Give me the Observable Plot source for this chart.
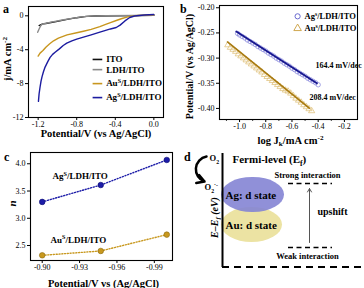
<!DOCTYPE html>
<html><head><meta charset="utf-8">
<script src="https://cdn.jsdelivr.net/npm/d3@7"></script>
<script src="https://cdn.jsdelivr.net/npm/@observablehq/plot@0.6"></script>
<style>
body{margin:0;background:#fff;}
#root{position:relative;width:364px;height:288px;overflow:hidden;font-family:"Liberation Serif",serif;}
.panel{position:absolute;}
.plbl{position:absolute;font:bold 12px "Liberation Serif",serif;line-height:1;}
</style></head><body><div id="root"></div>
<script>
// ---------- Panel a: LSV curves ----------
const itoV = [-1.19,-1.17,-1.15,-1.12,-1.08,-1.0,-0.9,-0.8,-0.7,-0.6,-0.4,-0.2,0.0];
const itoJ = [-1.15,-1.05,-0.95,-0.9,-0.82,-0.65,-0.42,-0.22,-0.07,-0.02,0,0.02,0.05];
const ldhV = [-1.205,-1.19,-1.175,-1.16,-1.12,-1.05,-0.95,-0.85,-0.75,-0.65,-0.5,-0.2,0.0];
const ldhJ = [-1.95,-1.55,-1.2,-1.0,-0.88,-0.72,-0.5,-0.3,-0.12,-0.03,0,0.03,0.06];
const auV = [-1.2,-1.18,-1.15,-1.12,-1.08,-1.04,-0.99,-0.9,-0.8,-0.73,-0.65,-0.56,-0.5,-0.45,-0.39,-0.33,-0.28,-0.24,-0.2,-0.1,0.0];
const auJ = [-4.75,-4.4,-4.1,-3.7,-3.3,-2.95,-2.64,-2.25,-2.0,-1.82,-1.6,-1.28,-1.02,-0.8,-0.55,-0.32,-0.16,-0.06,0.0,0.08,0.12];
const agV = [-1.197,-1.19,-1.18,-1.17,-1.16,-1.145,-1.128,-1.1,-1.076,-1.05,-1.024,-0.98,-0.94,-0.903,-0.85,-0.8,-0.73,-0.65,-0.56,-0.5,-0.45,-0.39,-0.35,-0.3,-0.25,-0.2,-0.1,0.0];
const agJ = [-10.1,-9.2,-8.4,-7.7,-7.2,-6.6,-6.05,-5.4,-4.9,-4.55,-4.3,-3.9,-3.5,-3.23,-2.95,-2.75,-2.52,-2.25,-1.93,-1.72,-1.55,-1.38,-1.1,-0.6,-0.2,-0.02,0.1,0.15];
const seriesA = [
  {name:"ITO", v:itoV, j:itoJ, color:"#111111", ly:-5.15},
  {name:"LDH/ITO", v:ldhV, j:ldhJ, color:"#8a8a8a", ly:-6.35},
  {name:"Au^{S}/LDH/ITO", v:auV, j:auJ, color:"#c8961e", ly:-8.0},
  {name:"Ag^{S}/LDH/ITO", v:agV, j:agJ, color:"#1c1ca0", ly:-9.65}
];
const aTicksX = [-1.2,-0.8,-0.4,0.0];
const aTicksY = [-12,-8,-4,0];

// ---------- Panel b: Tafel ----------
const bAgX = [-1.015,-1.0,-0.98,-0.96,-0.94,-0.92,-0.9,-0.88,-0.86,-0.84,-0.82,-0.8,-0.78,-0.76,-0.74,-0.72,-0.7,-0.68,-0.66,-0.64,-0.62,-0.6,-0.58,-0.56,-0.54,-0.52,-0.5,-0.48,-0.46,-0.44,-0.42,-0.4];
const bAgY = [-0.251,-0.254,-0.257,-0.260,-0.264,-0.267,-0.270,-0.273,-0.277,-0.280,-0.283,-0.286,-0.290,-0.293,-0.296,-0.300,-0.303,-0.306,-0.310,-0.313,-0.316,-0.320,-0.323,-0.327,-0.330,-0.333,-0.336,-0.340,-0.343,-0.346,-0.349,-0.353];
const bAuX = [-1.09,-1.07,-1.05,-1.03,-1.01,-0.99,-0.97,-0.95,-0.93,-0.91,-0.89,-0.87,-0.85,-0.83,-0.81,-0.79,-0.77,-0.75,-0.73,-0.71,-0.69,-0.67,-0.65,-0.63,-0.61,-0.59,-0.57,-0.55,-0.53,-0.51,-0.49,-0.47,-0.45];
const bAuY = [-0.274,-0.279,-0.283,-0.287,-0.292,-0.296,-0.300,-0.304,-0.308,-0.312,-0.316,-0.320,-0.324,-0.328,-0.333,-0.337,-0.341,-0.345,-0.349,-0.353,-0.357,-0.361,-0.364,-0.366,-0.370,-0.375,-0.380,-0.384,-0.388,-0.393,-0.397,-0.401,-0.405];
const bAgFitX = [-1.025,-0.41], bAgFitY = [-0.247,-0.350];
const bAuFitX = [-1.092,-0.468], bAuFitY = [-0.268,-0.3995];
const bSlopes = [{t:"164.4 mV/dec", x:-0.42, y:-0.314}, {t:"208.4 mV/dec", x:-0.466, y:-0.379}];
const bTicksX = [-1.0,-0.8,-0.6,-0.4,-0.2];
const bMinorX = [-1.1,-0.9,-0.7,-0.5,-0.3];
const bTicksY = [-0.40,-0.35,-0.30,-0.25,-0.20];

// ---------- Panel c: electron transfer number ----------
const cPot = [-0.90,-0.947,-1.0];
const cAg = [3.30,3.61,4.07];
const cAu = [2.32,2.40,2.70];
const cTicksX = [-0.90,-0.93,-0.96,-0.99];
const cTicksY = [2.5,3.0,3.5,4.0];

// ---------- Panel d: schematic (layout units) ----------
const dStates = [
  {label:"Au: d state", x1:39, x2:100, y1:67, y2:102, fill:"#ece3a3", op:1},
  {label:"Ag: d state", x1:39, x2:102, y1:37, y2:72, fill:"#8484d4", op:0.9}
];
const dLevels = [
  {label:"Strong interaction", y:43, ty:35},
  {label:"Weak interaction", y:107, ty:116}
];

// rich text: _{sub} and ^{sup}
function rich(svg){
  d3.select(svg).selectAll("text").each(function(){
    const el = this;
    const s = el.textContent;
    if (!/[_^]\{/.test(s)) return;
    el.textContent = "";
    const re = /([_^])\{([^}]*)\}/g;
    let last = 0, m, cur = 0;
    const add = (txt, off, small) => {
      const ts = d3.select(el).append("tspan").text(txt);
      if (off !== cur) ts.attr("dy", off - cur);
      if (small) ts.attr("font-size", "68%");
      cur = off;
    };
    while ((m = re.exec(s))) {
      if (m.index > last) add(s.slice(last, m.index), 0, false);
      add(m[2], m[1] === "_" ? 2.5 : -3.5, true);
      last = re.lastIndex;
    }
    if (last < s.length) add(s.slice(last), 0, false);
  });
  return svg;
}

const root = document.getElementById("root");
function place(svg, left, top){
  svg.classList.add("panel");
  svg.style.left = left + "px"; svg.style.top = top + "px";
  root.appendChild(rich(svg));
}
const baseStyle = {fontFamily:"'Liberation Serif', serif", fontSize:"8px", background:"transparent", color:"#000", overflow:"visible"};
const xTitle = (t, dy, dx, size) => Plot.text([t], {frameAnchor:"bottom", dy, dx, lineAnchor:"middle", textAnchor:"middle", fontWeight:"bold", fontSize:size});
const yTitle = (t, dx, dy, size, italic) => Plot.text([t], {frameAnchor:"left", dx, dy, rotate:-90, lineAnchor:"middle", textAnchor:"middle", fontWeight:"bold", fontStyle: italic ? "italic" : "normal", fontSize:size});

// Panel a
const rowsA = seriesA.flatMap(s => s.v.map((v,i) => ({s:s.name, x:v, y:s.j[i], c:s.color})));
place(Plot.plot({
  width:182, height:140, marginLeft:28, marginTop:6, marginRight:19, marginBottom:23,
  style: baseStyle,
  color:{type:"identity"},
  x:{domain:[-1.3,0.1], ticks:aTicksX, tickFormat:d=>d.toFixed(1), tickSize:3, tickPadding:1, label:null},
  y:{domain:[-12,1.1], ticks:aTicksY, tickFormat:d=>String(d), tickSize:3, tickPadding:2, label:null},
  marks:[
    Plot.frame({stroke:"#000", strokeWidth:1.1}),
    Plot.line(rowsA, {x:"x", y:"y", z:"s", stroke:"c", strokeWidth:1.4}),
    Plot.ruleY(seriesA, {y:"ly", x1:-0.63, x2:-0.53, stroke:"color", strokeWidth:1.6}),
    Plot.text(seriesA, {x:-0.495, y:"ly", text:"name", textAnchor:"start", fontWeight:"bold", fontSize:9}),
    xTitle("Potential/V (vs Ag/AgCl)", 16, 0, 10.5),
    yTitle("j/mA cm^{-2}", -21, -3, 10.5)
  ]
}), 0, 0);

// Panel b
const rowsAg = bAgX.map((x,i)=>({x, y:bAgY[i]}));
const rowsAu = bAuX.map((x,i)=>({x, y:bAuY[i]}));
const fitAg = bAgFitX.map((x,i)=>({x, y:bAgFitY[i]}));
const fitAu = bAuFitX.map((x,i)=>({x, y:bAuFitY[i]}));
place(Plot.plot({
  width:182, height:150, marginLeft:37, marginTop:5, marginRight:7, marginBottom:31,
  style: baseStyle,
  x:{domain:[-1.153,-0.1], ticks:bTicksX, tickFormat:d=>d.toFixed(1), tickSize:3, tickPadding:1, label:null},
  y:{domain:[-0.422,-0.1955], ticks:bTicksY, tickFormat:d=>d.toFixed(2), tickSize:3, tickPadding:2, label:null},
  marks:[
    Plot.frame({stroke:"#000", strokeWidth:1.1}),
    Plot.ruleX(bMinorX, {x:d=>d, y1:-0.4255, y2:-0.422, stroke:"#000", strokeWidth:1}),
    Plot.dot(rowsAg, {x:"x", y:"y", r:2.2, stroke:"#8080da", strokeWidth:0.7, fill:"none"}),
    Plot.dot(rowsAu, {x:"x", y:"y", r:2.3, symbol:"triangle", stroke:"#dcbc70", strokeWidth:0.7, fill:"none"}),
    Plot.line(fitAg, {x:"x", y:"y", stroke:"#16168e", strokeWidth:1.8}),
    Plot.line(fitAu, {x:"x", y:"y", stroke:"#a87a10", strokeWidth:1.6}),
    Plot.dot([{x:-0.557, y:-0.217}], {x:"x", y:"y", r:2.6, stroke:"#6a6ad0", fill:"none", strokeWidth:1}),
    Plot.dot([{x:-0.557, y:-0.241}], {x:"x", y:"y", r:2.8, symbol:"triangle", stroke:"#d0a850", fill:"none", strokeWidth:1}),
    Plot.text([{t:"Ag^{s}/LDH/ITO", x:-0.504, y:-0.217},{t:"Au^{s}/LDH/ITO", x:-0.504, y:-0.241}], {x:"x", y:"y", text:"t", textAnchor:"start", fontWeight:"bold", fontSize:8.5}),
    Plot.text(bSlopes, {x:"x", y:"y", text:"t", textAnchor:"start", fontWeight:"bold", fontSize:8}),
    xTitle("log J_{k}/mA cm^{-2}", 21, 2, 10.5),
    yTitle("Potential/V (vs Ag/AgCl)", -30, 4, 10)
  ]
}), 182, 0);

// Panel c
const rowsCAg = cPot.map((x,i)=>({x, y:cAg[i]}));
const rowsCAu = cPot.map((x,i)=>({x, y:cAu[i]}));
place(Plot.plot({
  width:182, height:148, marginLeft:30, marginTop:12, marginRight:10, marginBottom:28,
  style: baseStyle,
  x:{domain:[-0.8906,-1.0046], ticks:cTicksX, tickFormat:d=>d.toFixed(2), tickSize:3, tickPadding:1, label:null},
  y:{domain:[2.225,4.207], ticks:cTicksY, tickFormat:d=>d.toFixed(1), tickSize:3, tickPadding:2, label:null},
  marks:[
    Plot.frame({stroke:"#000", strokeWidth:1.1}),
    Plot.line(rowsCAg, {x:"x", y:"y", stroke:"#1c1ca8", strokeWidth:1.4, strokeDasharray:"1.1 1.7"}),
    Plot.line(rowsCAu, {x:"x", y:"y", stroke:"#c8981e", strokeWidth:1.4, strokeDasharray:"1.1 1.7"}),
    Plot.dot(rowsCAg, {x:"x", y:"y", r:2.8, fill:"#1c1ca8", stroke:"#0c0c70", strokeWidth:0.6}),
    Plot.dot(rowsCAu, {x:"x", y:"y", r:2.8, fill:"#c8981e", stroke:"#8a6a10", strokeWidth:0.6}),
    Plot.text([{t:"Ag^{S}/LDH/ITO", x:-0.9083, y:3.767},{t:"Au^{S}/LDH/ITO", x:-0.9067, y:2.6}], {x:"x", y:"y", text:"t", textAnchor:"start", fontWeight:"bold", fontSize:9}),
    xTitle("Potential/V vs (Ag/AgCl)", 23, 2, 10.5),
    yTitle("n", -18, -3, 11, true)
  ]
}), 0, 140);

// Panel d
place(Plot.plot({
  width:182, height:148, margin:0,
  style: baseStyle,
  x:{domain:[0,182], range:[0,182], axis:null},
  y:{domain:[0,148], range:[0,148], axis:null},
  color:{type:"identity"},
  marks:[
    Plot.rect(dStates, {x1:"x1", x2:"x2", y1:"y1", y2:"y2", fill:"fill", fillOpacity:"op", rx:31, ry:17.5}),
    Plot.ruleX([40], {y1:13, y2:127, stroke:"#000", strokeWidth:2}),
    Plot.ruleY([126.5], {x1:40, x2:182, stroke:"#000", strokeWidth:2, strokeDasharray:"7 5"}),
    Plot.ruleY(dLevels, {y:"y", x1:106, x2:150, stroke:"#000", strokeWidth:1.3, strokeDasharray:"5 3.5"}),
    Plot.text(dLevels, {x:125, y:"ty", text:"label", fontWeight:"bold", fontSize:8.5}),
    Plot.arrow([{x1:127, y1:102, x2:127, y2:48}], {x1:"x1", y1:"y1", x2:"x2", y2:"y2", stroke:"#555", strokeWidth:1, headLength:6}),
    Plot.text(["upshift"], {x:135, y:71, textAnchor:"start", fontWeight:"bold", fontSize:10}),
    Plot.text(dStates, {x:43, y:d=>(d.y1+d.y2)/2, text:"label", textAnchor:"start", fontWeight:"bold", fontSize:11}),
    Plot.text(["Fermi-level (E_{f})"], {x:50, y:19, textAnchor:"start", fontWeight:"bold", fontSize:11}),
    Plot.text(["O_{2}"], {x:27, y:18, textAnchor:"start", fontWeight:"bold", fontSize:8.5}),
    Plot.text(["O_{2}^{·-}"], {x:22, y:47, textAnchor:"start", fontWeight:"bold", fontSize:8.5}),
    Plot.arrow([{x1:24, y1:16, x2:22, y2:41}], {x1:"x1", y1:"y1", x2:"x2", y2:"y2", bend:-75, stroke:"#000", strokeWidth:2.5, headLength:6}),
    Plot.text(["E–E_{f} (eV)"], {x:32, y:77, rotate:-90, fontWeight:"bold", fontStyle:"italic", fontSize:10})
  ]
}), 182, 140);

// panel letters
[["a",3,3],["b",180,3],["c",4,151],["d",184,151]].forEach(([t,x,y])=>{
  const d = document.createElement("div"); d.className="plbl"; d.textContent=t;
  d.style.left=x+"px"; d.style.top=y+"px"; root.appendChild(d);
});
</script>
</body></html>
